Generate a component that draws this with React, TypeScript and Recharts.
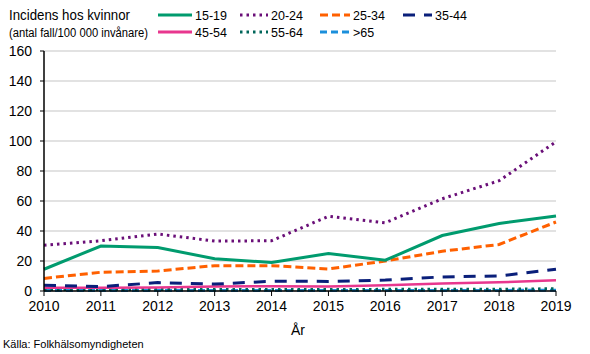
import React from 'react';
import { LineChart, Line, XAxis, YAxis, CartesianGrid } from 'recharts';

const years = ['2010', '2011', '2012', '2013', '2014', '2015', '2016', '2017', '2018', '2019'];
const s1519 = [14.5, 30, 29, 21.5, 19, 25, 20.5, 37, 45, 50];
const s2024 = [30.5, 33.5, 38, 33.3, 33.5, 49.8, 45.5, 61.5, 73.5, 99.5];
const s2534 = [8.4, 12.5, 13.3, 16.9, 16.9, 14.7, 20, 26.5, 31, 46];
const s3544 = [3.8, 2.9, 5.6, 4.6, 6.5, 6.4, 7.3, 9.4, 10, 14.5];
const s4554 = [2.2, 2.2, 2.3, 3, 3.2, 3, 3.9, 5, 5.8, 7.1];
const s5564 = [1, 1, 1, 1, 1, 1, 1.1, 1.1, 1.2, 1.5];
const s65 = [0.4, 0.4, 0.4, 0.4, 0.4, 0.4, 0.4, 0.4, 0.4, 0.5];
const yTicks = [0, 20, 40, 60, 80, 100, 120, 140, 160];

const series = [
  { key: '15-19', values: s1519, color: '#009B6E', dash: undefined as string | undefined, width: 3, lx: 158, ly: 15, lw: 34 },
  { key: '20-24', values: s2024, color: '#6A0F78', dash: '2.5 4', width: 3, lx: 240, ly: 15, lw: 28 },
  { key: '25-34', values: s2534, color: '#FF6000', dash: '8 4', width: 3, lx: 320, ly: 15, lw: 30 },
  { key: '35-44', values: s3544, color: '#0A1F7A', dash: '12 9', width: 3, lx: 403, ly: 15, lw: 29 },
  { key: '45-54', values: s4554, color: '#E8378E', dash: undefined as string | undefined, width: 2.5, lx: 158, ly: 32, lw: 34 },
  { key: '55-64', values: s5564, color: '#00665A', dash: '2.5 4', width: 3, lx: 240, ly: 32, lw: 28 },
  { key: '>65', values: s65, color: '#1B8FDB', dash: '7 4', width: 3, lx: 320, ly: 32, lw: 30 },
];

const data = years.map((y, i) => {
  const row: Record<string, number | string> = { year: y };
  series.forEach((s) => { row[s.key] = s.values[i]; });
  return row;
});

const FONT = '"Liberation Sans", Arial, sans-serif';

export default function App() {
  return (
    <div style={{ position: 'absolute', left: 0, top: 0, width: 590, height: 354, background: '#fff', fontFamily: FONT, color: '#000' }}>
      <LineChart width={590} height={354} data={data} margin={{ top: 51, right: 34, left: 4, bottom: 33 }}>
        <CartesianGrid vertical={false} stroke="#d9d9d9" strokeWidth={1.5} />
        <XAxis
          dataKey="year"
          tick={{ fill: '#000', fontSize: 14, fontFamily: FONT }}
          tickLine={{ stroke: '#000' }}
          axisLine={{ stroke: '#000', strokeWidth: 1.5 }}
          tickSize={5}
          tickMargin={5}
          height={30}
          interval={0}
        />
        <YAxis
          domain={[0, 160]}
          ticks={yTicks}
          tick={{ fill: '#000', fontSize: 14, fontFamily: FONT }}
          tickLine={{ stroke: '#000' }}
          axisLine={{ stroke: '#000', strokeWidth: 1.5 }}
          tickSize={4}
          tickMargin={8}
          width={40}
          interval={0}
        />
        {series.slice().reverse().map((s) => (
          <Line
            key={s.key}
            dataKey={s.key}
            stroke={s.color}
            strokeWidth={s.width}
            strokeDasharray={s.dash}
            dot={false}
            activeDot={false}
            type="linear"
            isAnimationActive={false}
          />
        ))}
      </LineChart>
      <svg width={590} height={45} style={{ position: 'absolute', left: 0, top: 0 }}>
        <text x={9} y={20} fontSize={14.5} fontFamily={FONT} fill="#000" textLength={121} lengthAdjust="spacingAndGlyphs">Incidens hos kvinnor</text>
        <text x={9} y={37} fontSize={12} fontFamily={FONT} fill="#000" textLength={139} lengthAdjust="spacingAndGlyphs">(antal fall/100 000 invånare)</text>
        {series.map((s) => (
          <g key={s.key}>
            <line x1={s.lx} x2={s.lx + s.lw} y1={s.ly} y2={s.ly} stroke={s.color} strokeWidth={3} strokeDasharray={s.dash} />
            <text x={s.lx + s.lw + 3} y={s.ly + 4.5} fontSize={12.5} fontFamily={FONT} fill="#000">{s.key}</text>
          </g>
        ))}
      </svg>
      <div style={{ position: 'absolute', left: 291, top: 322, fontSize: 14 }}>År</div>
      <div style={{ position: 'absolute', left: 3, top: 338, fontSize: 11 }}>Källa: Folkhälsomyndigheten</div>
    </div>
  );
}
